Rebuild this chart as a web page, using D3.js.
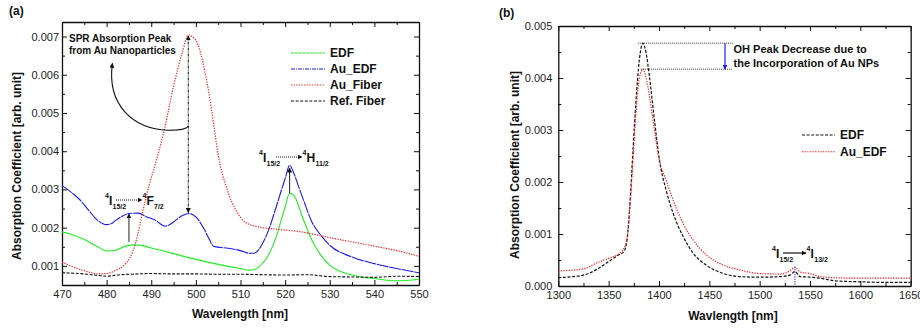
<!DOCTYPE html>
<html>
<head>
<meta charset="utf-8">
<script src="https://cdn.jsdelivr.net/npm/d3@7"></script>
<style>
  body { margin: 0; background: #fff; }
  svg { font-family: "Liberation Sans", Arial, sans-serif; }
  .tick text { font-size: 11px; fill: #222; }
  .tick line, .domain { stroke: #111; }
</style>
</head>
<body>
<div id="chart"></div>
<script>
// ---- panel (a) data: [wavelength nm, absorption coefficient]
const edfA = [[470,0.00189],[472,0.00183],[475,0.00169],[478,0.0015],[480,0.00139],[482,0.00141],[484,0.00151],[486,0.00155],[488,0.00153],[490,0.00147],[495,0.00132],[500,0.00117],[505,0.00104],[510,0.00093],[512,0.00089],[513,0.0009],[514,0.00096],[516,0.00123],[518,0.00176],[519,0.00215],[520,0.00254],[521,0.0029],[522,0.00284],[524,0.00224],[526,0.00167],[528,0.00128],[530,0.00102],[535,0.00076],[540,0.00067],[545,0.00061],[550,0.00065]];
const auEdfA = [[470,0.0031],[471,0.00302],[472,0.00293],[474,0.00273],[476,0.00245],[478,0.00219],[480,0.00208],[481,0.0021],[482,0.00219],[483.5,0.0023],[485,0.00237],[487,0.00238],[489,0.00228],[491,0.00219],[492,0.0021],[493,0.00204],[494,0.00207],[495,0.00215],[497,0.00232],[498.5,0.00237],[500,0.00228],[502,0.00193],[503,0.0017],[504,0.00151],[508,0.00145],[510,0.0014],[512,0.00133],[513,0.00133],[514,0.00141],[515,0.0016],[516,0.00185],[518,0.00254],[519,0.00292],[520,0.00328],[521,0.00363],[522,0.00341],[523,0.00308],[524,0.00276],[526,0.00215],[528,0.0018],[530,0.00154],[535,0.00123],[540,0.00106],[545,0.00093],[550,0.00082]];
const auFiberA = [[470,0.0011],[473,0.00095],[476,0.00084],[478,0.00079],[480,0.0008],[482,0.00088],[484,0.00103],[485.3,0.00123],[486.5,0.0016],[488,0.00237],[489.5,0.0031],[491,0.0037],[493,0.0046],[495,0.0057],[497,0.0066],[498.3,0.00704],[500,0.0069],[502,0.0061],[503.5,0.0051],[505,0.0039],[507,0.003],[509,0.00245],[511,0.00215],[514,0.00202],[518,0.00196],[523,0.0019],[530,0.00174],[538,0.00156],[545,0.0014],[550,0.00125]];
const refFiberA = [[470,0.00082],[475,0.00079],[478,0.00075],[480,0.00073],[483,0.00077],[485,0.00078],[490,0.0008],[495,0.00079],[500,0.00079],[505,0.00078],[510,0.00078],[515,0.00077],[520,0.00076],[525,0.00077],[530,0.00072],[535,0.00071],[540,0.0007],[545,0.00073],[550,0.00072]];
const seriesNamesA = ['EDF', 'Au_EDF', 'Au_Fiber', 'Ref. Fiber'];
const xTicksA = [470, 480, 490, 500, 510, 520, 530, 540, 550];
const yTicksA = [0.001, 0.002, 0.003, 0.004, 0.005, 0.006, 0.007];

// ---- panel (b) data
const edfB = [[1300,0.00016],[1325,0.00021],[1340,0.00034],[1350,0.00047],[1360,0.0006],[1365,0.00066],[1368.5,0.00092],[1371,0.00153],[1374,0.00255],[1377,0.00351],[1380.5,0.00435],[1384,0.00467],[1387,0.0045],[1390.5,0.00403],[1395.5,0.00319],[1400.5,0.00242],[1407,0.00185],[1414,0.0014],[1424,0.00095],[1434,0.00063],[1447,0.0004],[1464,0.00024],[1480,0.00018],[1500,0.00017],[1520,0.00018],[1530,0.00021],[1535,0.00028],[1540,0.00018],[1550,0.00017],[1560,0.00015],[1575,0.0001],[1600,0.00008],[1625,0.00007],[1650,0.00007]];
const auEdfB = [[1300,0.00029],[1325,0.00033],[1340,0.00046],[1350,0.00053],[1360,0.00062],[1365,0.00072],[1368.5,0.00095],[1371,0.0015],[1374,0.00235],[1377,0.00328],[1380.5,0.004],[1384,0.00417],[1389,0.00383],[1394,0.00319],[1400.5,0.0024],[1407,0.00204],[1414,0.00165],[1424,0.0012],[1434,0.00088],[1447,0.0006],[1464,0.0004],[1480,0.00031],[1500,0.00024],[1520,0.00023],[1530,0.00029],[1535,0.00036],[1540,0.00027],[1550,0.00024],[1560,0.00018],[1575,0.00016],[1600,0.00015],[1650,0.00015]];
const seriesNamesB = ['EDF', 'Au_EDF'];
const xTicksB = [1300, 1350, 1400, 1450, 1500, 1550, 1600, 1650];
const yTicksB = [0, 0.001, 0.002, 0.003, 0.004, 0.005];

const svg = d3.select('#chart').append('svg')
  .attr('width', 920)
  .attr('height', 328);

// arrowhead markers
const defs = svg.append('defs');
function marker(id, color) {
  defs.append('marker')
    .attr('id', id)
    .attr('viewBox', '0 0 10 10')
    .attr('refX', 9).attr('refY', 5)
    .attr('markerWidth', 5).attr('markerHeight', 5)
    .attr('markerUnits', 'userSpaceOnUse')
    .attr('orient', 'auto-start-reverse')
    .append('path')
    .attr('d', 'M0,0L10,5L0,10z')
    .attr('fill', color);
}
marker('arrBlack', '#111');
marker('arrBlue', '#1a1aff');

// frame with inward ticks on all four sides
function frame(x, y, xt, yt, xMinor, yMinor, fmtY, ypad) {
  const [x0, x1] = x.range();
  const [y0, y1] = y.range();
  const g = svg.append('g');
  [[d3.axisBottom(x), y0, true], [d3.axisTop(x), y1, false]].forEach(([ax, pos, lab]) => {
    g.append('g').attr('transform', `translate(0,${pos})`)
      .call(ax.tickValues(xt).tickSize(-5).tickSizeOuter(0).tickPadding(5)
        .tickFormat(lab ? d3.format('d') : ''));
    g.append('g').attr('transform', `translate(0,${pos})`)
      .call(ax.tickValues(xMinor).tickSize(-3).tickSizeOuter(0).tickFormat(''))
      .select('.domain').remove();
  });
  [[d3.axisLeft(y), x0, true], [d3.axisRight(y), x1, false]].forEach(([ax, pos, lab]) => {
    g.append('g').attr('transform', `translate(${pos},0)`)
      .call(ax.tickValues(yt).tickSize(-5).tickSizeOuter(0).tickPadding(ypad)
        .tickFormat(lab ? fmtY : ''));
    g.append('g').attr('transform', `translate(${pos},0)`)
      .call(ax.tickValues(yMinor).tickSize(-3).tickSizeOuter(0).tickFormat(''))
      .select('.domain').remove();
  });
  g.selectAll('.domain').attr('stroke-width', 1.3);
  g.selectAll('.tick line').attr('stroke-width', 1);
  return g;
}

function bold(x, y, txt, size, anchor) {
  return svg.append('text').attr('x', x).attr('y', y)
    .attr('font-size', size).attr('font-weight', 'bold')
    .attr('text-anchor', anchor || 'start').attr('fill', '#111').text(txt);
}

// transition label such as 4I15/2 -> 4H11/2 ; arrow runs from x+a0 to x+a1
function transition(x, y, a, b, c, d, dotted, a0, a1) {
  bold(x, y - 7, '4', 7);
  bold(x + 4, y, a, 12);
  bold(x + 7.5, y + 4, b, 7);
  svg.append('line')
    .attr('x1', x + a0).attr('x2', x + a1)
    .attr('y1', y - 5).attr('y2', y - 5)
    .attr('stroke', '#111').attr('stroke-width', dotted ? 1 : 1.2)
    .attr('stroke-dasharray', dotted ? '1,1' : null)
    .attr('marker-end', 'url(#arrBlack)');
  bold(x + a1 + 0.5, y - 7, '4', 7);
  bold(x + a1 + 4.5, y, c, 12);
  bold(x + a1 + 4.5 + (c === 'I' ? 3.8 : c === 'F' ? 7.5 : 9), y + 4, d, 7);
}

const lineA = (x, y) => d3.line().x(d => x(d[0])).y(d => y(d[1])).curve(d3.curveMonotoneX);

// ================= panel (a) =================
const xA = d3.scaleLinear().domain([470, 550]).range([62, 419]);
const yA = d3.scaleLinear().domain([0.0005, 0.00738]).range([285, 22]);
frame(xA, yA, xTicksA, yTicksA, d3.range(475, 550, 10), d3.range(0.0005, 0.0074, 0.001), d3.format('.3f'), 3);

const stylesA = [
  {data: edfA, color: '#22ee22', dash: null, w: 1.1},
  {data: auEdfA, color: '#1a1aee', dash: '12,0.8', w: 1.1},
  {data: auFiberA, color: '#ff2222', dash: '1.3,1.3', w: 1.2},
  {data: refFiberA, color: '#111', dash: '3,1.6', w: 1.1},
];
defs.append('clipPath').attr('id', 'clipA').append('rect')
  .attr('x', 62).attr('y', 22).attr('width', 357).attr('height', 263);
const gA = svg.append('g').attr('clip-path', 'url(#clipA)');
stylesA.forEach(s => {
  gA.append('path').datum(s.data)
    .attr('d', lineA(xA, yA))
    .attr('fill', 'none').attr('stroke', s.color)
    .attr('stroke-width', s.w).attr('stroke-dasharray', s.dash);
});

// legend (a)
const legendDashA = ['3,1', '4,1,1,1', '1.3,1.3', '3,1.6'];
seriesNamesA.forEach((n, i) => {
  const yy = 53 + i * 16;
  svg.append('line').attr('x1', 291).attr('x2', 325).attr('y1', yy).attr('y2', yy)
    .attr('stroke', stylesA[i].color).attr('stroke-width', 1.1)
    .attr('stroke-dasharray', legendDashA[i]);
  bold(330, yy + 4.3, n, 12);
});

// axis titles (a)
bold(240, 318, 'Wavelength [nm]', 12, 'middle');
bold(0, 0, 'Absorption Coefficient [arb. unit]', 12, 'middle')
  .attr('transform', 'translate(21,166) rotate(-90)');
bold(9, 15, '(a)', 12);

// SPR annotation
bold(69, 41.5, 'SPR Absorption Peak', 10);
bold(69, 53.5, 'from Au Nanoparticles', 10);
const xPeak = xA(498.3);
svg.append('path')
  .attr('d', `M${xPeak},${yA(0.00466)} Q${xPeak - 2},${yA(0.00455)} ${xPeak - 20},${yA(0.00455)} C${xPeak - 55},${yA(0.00458)} ${xA(480)},${yA(0.0052)} ${xA(481.3)},${yA(0.0063)}`)
  .attr('fill', 'none').attr('stroke', '#111').attr('stroke-width', 1.1)
  .attr('marker-end', 'url(#arrBlack)');
svg.append('line')
  .attr('x1', xPeak).attr('x2', xPeak)
  .attr('y1', yA(0.00237) - 1).attr('y2', yA(0.00704) + 1)
  .attr('stroke', '#111').attr('stroke-width', 1)
  .attr('stroke-dasharray', '3,1,1,1')
  .attr('marker-start', 'url(#arrBlack)').attr('marker-end', 'url(#arrBlack)');

// vertical arrows to Er peaks
[[485, 0.00163, 0.00236], [521, 0.0029, 0.00356]].forEach(([w, v0, v1]) => {
  svg.append('line')
    .attr('x1', xA(w)).attr('x2', xA(w))
    .attr('y1', yA(v0)).attr('y2', yA(v1))
    .attr('stroke', '#333').attr('stroke-width', 1.1)
    .attr('marker-end', 'url(#arrBlack)');
});
transition(105, 205, 'I', '15/2', 'F', '7/2', true, 11, 37);
transition(259, 162, 'I', '15/2', 'H', '11/2', true, 17, 43);

// ================= panel (b) =================
const xB = d3.scaleLinear().domain([1300, 1650]).range([558.3, 910.7]);
const yB = d3.scaleLinear().domain([0, 0.005]).range([286, 26]);
frame(xB, yB, xTicksB, yTicksB, d3.range(1325, 1650, 50), d3.range(0.0005, 0.005, 0.001), d3.format('.3f'), 6);

const stylesB = [
  {data: edfB, color: '#111', dash: '3,1.6', w: 1.2},
  {data: auEdfB, color: '#ff2222', dash: '1.3,1.3', w: 1.2},
];
stylesB.forEach(s => {
  svg.append('path').datum(s.data)
    .attr('d', lineA(xB, yB))
    .attr('fill', 'none').attr('stroke', s.color)
    .attr('stroke-width', s.w).attr('stroke-dasharray', s.dash);
});

seriesNamesB.forEach((n, i) => {
  const yy = 135 + i * 16.7;
  svg.append('line').attr('x1', 802).attr('x2', 835).attr('y1', yy).attr('y2', yy)
    .attr('stroke', stylesB[i].color).attr('stroke-width', 1.1)
    .attr('stroke-dasharray', stylesB[i].dash);
  bold(840, yy + 4.3, n, 12);
});

bold(733, 320, 'Wavlength [nm]', 12, 'middle');
bold(0, 0, 'Absorption Coefficient [arb. unit]', 12, 'middle')
  .attr('transform', 'translate(519,165) rotate(-90)');
bold(499, 17, '(b)', 12);

// OH peak decrease
const peakHi = d3.max(edfB, d => d[1]);
const peakLo = d3.max(auEdfB, d => d[1]);
[[peakHi, 1379], [peakLo, 1382]].forEach(([v, w]) => {
  svg.append('line')
    .attr('x1', xB(w)).attr('x2', 732.7)
    .attr('y1', yB(v)).attr('y2', yB(v))
    .attr('stroke', '#333').attr('stroke-width', 1)
    .attr('stroke-dasharray', '1,1');
});
svg.append('line')
  .attr('x1', 725).attr('x2', 725)
  .attr('y1', yB(peakHi)).attr('y2', yB(peakLo))
  .attr('stroke', '#1a1aff').attr('stroke-width', 1.2)
  .attr('marker-end', 'url(#arrBlue)');
bold(733.5, 53, 'OH Peak Decrease due to', 11);
bold(733.5, 67, 'the Incorporation of Au NPs', 11);

// Er 4I15/2 -> 4I13/2
svg.append('line')
  .attr('x1', xB(1535)).attr('x2', xB(1535))
  .attr('y1', yB(0.00037)).attr('y2', yB(0))
  .attr('stroke', '#1a1aff').attr('stroke-width', 1)
  .attr('stroke-dasharray', '1.2,1.2');
transition(772, 258, 'I', '15/2', 'I', '13/2', false, 11, 34);
</script>
</body>
</html>
